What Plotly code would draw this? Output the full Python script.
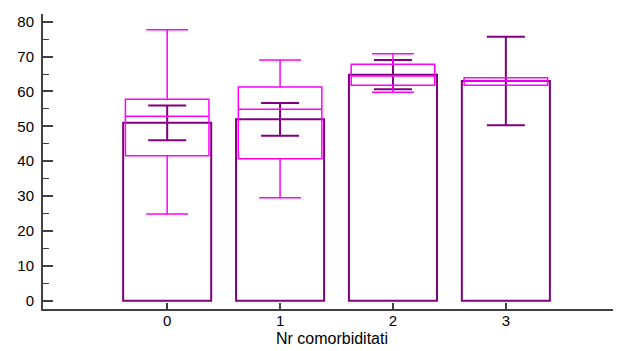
import plotly.graph_objects as go

categories = [0, 1, 2, 3]
tick_labels = ["0", "1", "2", "3"]
bar_means = [51, 52, 64.8, 63]
bar_err = [5, 4.7, 4.2, 12.7]
box_q1 = [41.6, 40.7, 61.8, 61.8]
box_median = [52.9, 54.9, 64.4, 63.0]
box_q3 = [57.8, 61.3, 67.8, 63.9]
box_low = [24.9, 29.5, 59.8, 61.8]
box_high = [77.7, 69.0, 70.8, 63.9]
y_ticks = [0, 10, 20, 30, 40, 50, 60, 70, 80]

PURPLE = "#800080"
MAGENTA = "#FF00FF"
AXIS = "#404040"
FONT = "Liberation Sans, Arial, sans-serif"

fig = go.Figure()
fig.add_trace(go.Bar(
    x=categories, y=bar_means, width=0.78,
    marker=dict(color="white", line=dict(color=PURPLE, width=2)),
    error_y=dict(type="data", array=bar_err, visible=True,
                 color=PURPLE, thickness=2, width=19),
    hoverinfo="skip", showlegend=False,
))
fig.add_trace(go.Box(
    x=categories, q1=box_q1, median=box_median, q3=box_q3,
    lowerfence=box_low, upperfence=box_high,
    width=0.74, whiskerwidth=0.5,
    line=dict(color=MAGENTA, width=1.5),
    fillcolor="rgba(0,0,0,0)",
    hoverinfo="skip", showlegend=False,
))

# page body has an 8px margin, so the figure is 8px smaller and margins shifted
fig.update_layout(
    width=613, height=343,
    margin=dict(l=35, r=0, t=6, b=42, autoexpand=False),
    paper_bgcolor="white", plot_bgcolor="white",
    font=dict(family=FONT, size=15, color="black"),
    barmode="overlay", boxmode="overlay",
    xaxis=dict(
        range=[-1.1, 4.02], tickvals=categories, ticktext=tick_labels,
        ticks="inside", ticklen=6, tickwidth=2, tickcolor=AXIS,
        showline=True, linecolor=AXIS, linewidth=2,
        showgrid=False, zeroline=False, ticklabelstandoff=-3,
        automargin=True,
        title=dict(text="Nr comorbiditati", font=dict(size=16), standoff=5),
        tickfont=dict(size=15),
    ),
    yaxis=dict(
        range=[-2.35, 82.2], tickvals=y_ticks,
        ticks="inside", ticklen=10, tickwidth=2, tickcolor=AXIS,
        minor=dict(dtick=5, ticks="inside", ticklen=6, tickwidth=1, tickcolor=AXIS),
        showline=True, linecolor=AXIS, linewidth=2,
        showgrid=False, zeroline=False, ticklabelstandoff=4,
        tickfont=dict(size=15),
    ),
)

fig.write_html("out.html")
